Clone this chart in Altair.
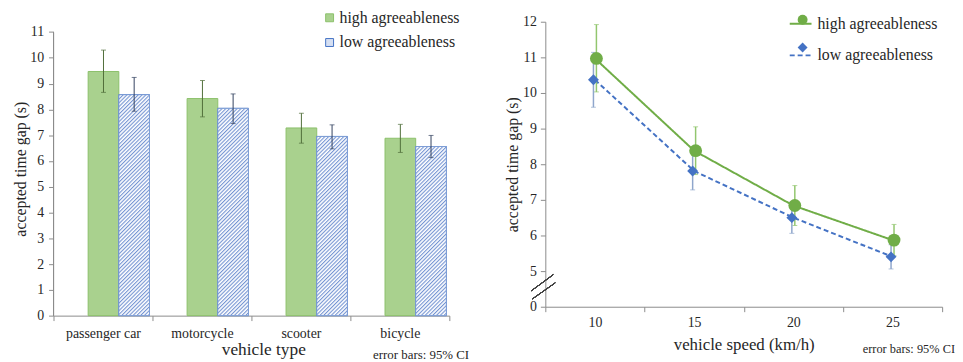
import altair as alt
import pandas as pd
from urllib.parse import quote

FONT = "Liberation Serif, Times New Roman, serif"
TEXT = "#262626"
AXIS = "#8c8c8c"

series_names = ["high agreeableness", "low agreeableness"]

# ---- left panel: vehicle type ----
vehicles = ["passenger car", "motorcycle", "scooter", "bicycle"]
high_mean = [9.47, 8.42, 7.28, 6.88]
high_lo = [8.66, 7.71, 6.69, 6.33]
high_hi = [10.30, 9.12, 7.85, 7.42]
low_mean = [8.57, 8.04, 6.95, 6.56]
low_lo = [7.93, 7.45, 6.47, 6.13]
low_hi = [9.24, 8.60, 7.40, 6.99]

# ---- right panel: vehicle speed ----
speeds = ["10", "15", "20", "25"]
high_sp = [10.97, 8.38, 6.84, 5.87]
high_sp_lo = [10.03, 7.71, 6.28, 5.43]
high_sp_hi = [11.92, 9.05, 7.40, 6.31]
low_sp = [10.37, 7.81, 6.50, 5.40]
low_sp_lo = [9.60, 7.28, 6.06, 5.06]
low_sp_hi = [11.14, 8.34, 6.94, 5.74]

L_W, L_H, L_MAX = 400, 297, 11.4
R_W, R_H = 401, 288
BAR_W = 31

GREEN_FILL = "#a9d18e"
GREEN_EDGE = "#8cc06a"
BLUE_EDGE = "#7f9fd6"
HATCH = "#7393d2"


def hatch_url(w, h):
    svg = (
        f"<svg xmlns='http://www.w3.org/2000/svg' width='{w:.2f}' height='{h:.2f}' "
        f"viewBox='0 0 {w:.2f} {h:.2f}' preserveAspectRatio='none'>"
        "<defs><pattern id='p' width='2.7' height='10' patternUnits='userSpaceOnUse' "
        "patternTransform='rotate(45)'>"
        f"<rect x='0' y='0' width='1.1' height='10' fill='{HATCH}'/></pattern></defs>"
        f"<rect width='{w:.2f}' height='{h:.2f}' fill='#ffffff'/>"
        f"<rect width='{w:.2f}' height='{h:.2f}' fill='url(#p)'/></svg>"
    )
    return "data:image/svg+xml," + quote(svg)


rows = []
for i, v in enumerate(vehicles):
    rows.append(dict(vehicle=v, series=series_names[0], mean=high_mean[i], lo=high_lo[i], hi=high_hi[i], url=""))
    rows.append(dict(vehicle=v, series=series_names[1], mean=low_mean[i], lo=low_lo[i], hi=low_hi[i],
                     url=hatch_url(BAR_W, low_mean[i] * L_H / L_MAX)))
bar_df = pd.DataFrame(rows)

srows = []
for i, s in enumerate(speeds):
    srows.append(dict(speed=s, series=series_names[0], series2=series_names[0], mean=high_sp[i], lo=high_sp_lo[i], hi=high_sp_hi[i]))
    srows.append(dict(speed=s, series=series_names[1], series2=series_names[1], mean=low_sp[i], lo=low_sp_lo[i], hi=low_sp_hi[i]))
sp_df = pd.DataFrame(srows)

x_left = alt.X(
    "vehicle:N",
    scale=alt.Scale(domain=vehicles, paddingInner=0, paddingOuter=0),
    axis=alt.Axis(title="vehicle type", tickBand="extent", labelAngle=0, tickSize=5,
                  labelPadding=6, titlePadding=0, titleX=212, titleFontSize=17.5,
                  labelFontSize=14, labelFont=FONT, titleFont=FONT),
)
xoff = alt.XOffset(
    "series:N",
    scale=alt.Scale(domain=series_names, paddingInner=0, paddingOuter=0.6129, align=0.921),
)
y_scale_l = alt.Scale(domain=[0, L_MAX], nice=False)
y_axis_l = alt.Axis(values=list(range(12)), domain=False, grid=False, title="accepted time gap (s)",
                    tickSize=5, labelPadding=5, titlePadding=1, titleFontSize=16, labelFontSize=14,
                    labelFont=FONT, titleFont=FONT)
y_left = alt.Y("mean:Q", scale=y_scale_l, axis=y_axis_l)

left_legend = alt.Legend(
    title=None, orient="none", legendX=271, legendY=-12, symbolType="square", symbolSize=64,
    labelFontSize=16, labelFont=FONT, labelColor=TEXT, rowPadding=9, labelOffset=2, padding=0,
    symbolStrokeWidth=1,
)

bars = alt.Chart(bar_df).mark_bar(strokeWidth=1).encode(
    x=x_left, xOffset=xoff, y=y_left,
    fill=alt.Fill("series:N", scale=alt.Scale(domain=series_names, range=[GREEN_FILL, "#d5dff2"]), legend=left_legend),
    stroke=alt.Stroke("series:N", scale=alt.Scale(domain=series_names, range=[GREEN_EDGE, "#4472c4"]), legend=left_legend),
)

low_base = alt.Chart(bar_df).transform_filter(alt.datum.series == series_names[1])
hatch = low_base.mark_image(aspect=False).encode(
    x=x_left, xOffset=xoff, y=y_left, y2=alt.Y2(datum=0), url=alt.Url("url:N"),
)
hatch_outline = low_base.mark_bar(fillOpacity=0, stroke=BLUE_EDGE, strokeWidth=1).encode(
    x=x_left, xOffset=xoff, y=y_left,
)

left_err = []
for s, col in zip(series_names, ["#506e3a", "#33425f"]):
    base = alt.Chart(bar_df).transform_filter(alt.datum.series == s)
    left_err.append(base.mark_rule(color=col, strokeWidth=1).encode(
        x=x_left, xOffset=xoff, y=alt.Y("lo:Q", scale=y_scale_l, axis=y_axis_l), y2="hi:Q"))
    left_err.append(base.mark_tick(color=col, orient="horizontal", size=5, thickness=1).encode(
        x=x_left, xOffset=xoff, y=alt.Y("lo:Q", scale=y_scale_l, axis=y_axis_l)))
    left_err.append(base.mark_tick(color=col, orient="horizontal", size=5, thickness=1).encode(
        x=x_left, xOffset=xoff, y=alt.Y("hi:Q", scale=y_scale_l, axis=y_axis_l)))

left_axis_line = alt.Chart(bar_df).mark_rule(color=AXIS, strokeWidth=1).encode(
    x=alt.value(0), y=alt.Y(datum=0, scale=y_scale_l, axis=y_axis_l), y2=alt.Y2(datum=11)
)

left = alt.layer(bars, hatch, hatch_outline, *left_err, left_axis_line).properties(
    width=L_W, height=L_H,
    title=alt.TitleParams("error bars: 95% CI", orient="bottom", anchor="end", frame="group",
                          fontSize=13, font=FONT, fontWeight="normal", color=TEXT, dx=20, offset=-9),
)

# ---- right panel ----
x_right = alt.X(
    "speed:N",
    scale=alt.Scale(domain=speeds, paddingInner=0, paddingOuter=0),
    axis=alt.Axis(title="vehicle speed (km/h)", tickBand="extent", labelAngle=0, tickSize=5,
                  labelPadding=4, titlePadding=7, titleFontSize=17, labelFontSize=14,
                  labelFont=FONT, titleFont=FONT),
)
y_scale_r = alt.Scale(domain=[4, 12], nice=False, zero=False)
y_axis_r = alt.Axis(values=list(range(4, 13)), labelExpr="datum.value == 4 ? '0' : datum.label",
                    grid=False, title="accepted time gap (s)", tickSize=5, labelPadding=4,
                    titlePadding=2, titleFontSize=16, labelFontSize=14, labelFont=FONT, titleFont=FONT)
y_right = alt.Y("mean:Q", scale=y_scale_r, axis=y_axis_r)

line_legend = alt.Legend(
    title=None, orient="none", legendX=246, legendY=-10, symbolType="stroke", symbolSize=484,
    symbolStrokeWidth=2, labelFontSize=16, labelFont=FONT, labelColor=TEXT, rowPadding=12,
    labelOffset=5, padding=0,
)
pt_legend = alt.Legend(
    title=None, orient="none", legendX=252, legendY=-10, symbolSize=100, labelExpr="''",
    values=series_names, labelFontSize=16, labelFont=FONT, rowPadding=12, padding=0,
    symbolStrokeWidth=0,
)

lines = alt.Chart(sp_df).mark_line(strokeWidth=2).encode(
    x=x_right, y=y_right,
    stroke=alt.Stroke("series:N", scale=alt.Scale(domain=series_names, range=["#70ad47", "#4472c4"]), legend=line_legend),
    strokeDash=alt.StrokeDash("series:N", scale=alt.Scale(domain=series_names, range=[[1, 0], [5, 3]]), legend=line_legend),
)

right_layers = []
for s, ecol, off in zip(series_names, ["#92c66e", "#8fa6cc"], [1.5, -1.5]):
    base = alt.Chart(sp_df).transform_filter(alt.datum.series == s)
    right_layers.append(base.mark_rule(color=ecol, strokeWidth=1.5, xOffset=off).encode(
        x=x_right, y=alt.Y("lo:Q", scale=y_scale_r, axis=y_axis_r), y2="hi:Q"))
    right_layers.append(base.mark_tick(color=ecol, orient="horizontal", size=5, thickness=1, xOffset=off).encode(
        x=x_right, y=alt.Y("lo:Q", scale=y_scale_r, axis=y_axis_r)))
    right_layers.append(base.mark_tick(color=ecol, orient="horizontal", size=5, thickness=1, xOffset=off).encode(
        x=x_right, y=alt.Y("hi:Q", scale=y_scale_r, axis=y_axis_r)))

# point legend uses a reversed domain so it is not merged with the line legend
pt_domain = series_names[::-1]
points = []
for s, size, off in [(series_names[1], 121, -1.5), (series_names[0], 169, 1.5)]:
    points.append(
        alt.Chart(sp_df).transform_filter(alt.datum.series2 == s).mark_point(
            filled=True, opacity=1, size=size, xOffset=off, strokeWidth=0
        ).encode(
            x=x_right, y=y_right,
            shape=alt.Shape("series2:N", scale=alt.Scale(domain=pt_domain, range=["diamond", "circle"]), legend=pt_legend),
            fill=alt.Fill("series2:N", scale=alt.Scale(domain=pt_domain, range=["#4472c4", "#70ad47"]), legend=pt_legend),
        )
    )

break_a = alt.Chart(sp_df).mark_rule(color="#404040", strokeWidth=1).encode(
    x=alt.value(-14), x2=alt.value(8),
    y=alt.Y(datum=4.45, scale=y_scale_r, axis=y_axis_r), y2=alt.Y2(datum=4.9))
break_b = alt.Chart(sp_df).mark_rule(color="#404040", strokeWidth=1).encode(
    x=alt.value(-13), x2=alt.value(10),
    y=alt.Y(datum=4.22, scale=y_scale_r, axis=y_axis_r), y2=alt.Y2(datum=4.67))

right = alt.layer(lines, *right_layers, *points, break_a, break_b).properties(
    width=R_W, height=R_H,
    title=alt.TitleParams("error bars: 95% CI", orient="bottom", anchor="end", frame="group",
                          fontSize=12.5, font=FONT, fontWeight="normal", color=TEXT, dx=13, offset=-9),
)

chart = alt.hconcat(left, right, spacing=97, bounds="flush").resolve_scale(
    x="independent", y="independent", fill="independent", stroke="independent",
    strokeDash="independent", shape="independent", xOffset="independent",
).resolve_legend(fill="independent", stroke="independent", strokeDash="independent", shape="independent"
).properties(
    padding={"left": 5, "top": 0, "right": 0, "bottom": 0}
).configure(
    font=FONT,
).configure_axis(
    labelFont=FONT, titleFont=FONT, labelColor=TEXT, titleColor=TEXT, titleFontWeight="normal",
    domainColor=AXIS, tickColor=AXIS, grid=False,
).configure_legend(
    labelFont=FONT,
).configure_view(stroke=None)

chart.save("out.html", embed_options={"renderer": "svg", "actions": False})
